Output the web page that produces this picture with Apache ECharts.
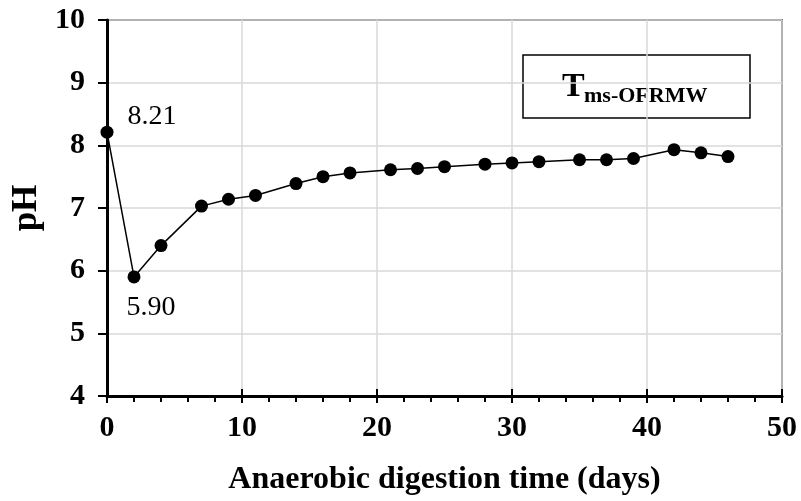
<!DOCTYPE html>
<html>
<head>
<meta charset="utf-8">
<script src="https://cdn.jsdelivr.net/npm/echarts@6/dist/echarts.min.js"></script>
<style>
  html, body { margin: 0; padding: 0; background: #fff; }
  #main { width: 801px; height: 501px; }
</style>
</head>
<body>
<div id="main"></div>
<script type="text/javascript">
    // data
    var days = [0, 2, 4, 7, 9, 11, 14, 16, 18, 21, 23, 25, 28, 30, 32, 35, 37, 39, 42, 44, 46];
    var ph = [8.21, 5.90, 6.40, 7.03, 7.14, 7.20, 7.39, 7.50, 7.56, 7.61, 7.63, 7.66, 7.70, 7.72, 7.74, 7.77, 7.77, 7.79, 7.93, 7.88, 7.82];
    var labelledIdx = [0, 1];
    var labelOffsets = [[45, -16], [17, 31]];

    var font = 'Liberation Serif, Times New Roman, serif';

    var points = days.map(function (d, i) {
        var item = { value: [d, ph[i]] };
        var k = labelledIdx.indexOf(i);
        if (k >= 0) {
            item.label = {
                show: true,
                position: 'inside',
                offset: labelOffsets[k],
                formatter: function (p) { return p.value[1].toFixed(2); },
                color: '#000',
                fontFamily: font,
                fontSize: 28
            };
        }
        return item;
    });

    var myChart = echarts.init(document.getElementById('main'));
    var option = {
        animation: false,
        grid: {
            left: 107, right: 19, top: 20, bottom: 105,
            show: true, borderColor: '#000', borderWidth: 1.5
        },
        xAxis: [{
            type: 'value', min: 0, max: 50, interval: 10,
            name: 'Anaerobic digestion time (days)',
            nameLocation: 'middle', nameGap: 68,
            nameTextStyle: { fontFamily: font, fontWeight: 'bold', fontSize: 32, color: '#000' },
            axisLine: { show: true, lineStyle: { color: '#000', width: 3 } },
            axisTick: { show: true, length: 7, lineStyle: { color: '#000', width: 2 } },
            minorTick: { show: true, splitNumber: 5, length: 6, lineStyle: { color: '#000', width: 2 } },
            axisLabel: { margin: 17, fontFamily: font, fontWeight: 'bold', fontSize: 30, color: '#000' },
            splitLine: { show: true, lineStyle: { color: '#d9d9d9', width: 1.5 } }
        }, {
            type: 'value', min: 0, max: 50, interval: 10, position: 'bottom',
            axisLine: { show: false },
            axisTick: { show: true, inside: true, length: 7, lineStyle: { color: '#000', width: 2 } },
            axisLabel: { show: false },
            splitLine: { show: false }
        }],
        yAxis: {
            type: 'value', min: 4, max: 10, interval: 1,
            name: 'pH',
            nameLocation: 'middle', nameGap: 62,
            nameTextStyle: { fontFamily: font, fontWeight: 'bold', fontSize: 35, color: '#000' },
            axisLine: { show: true, lineStyle: { color: '#000', width: 3 } },
            axisTick: { show: true, length: 9, lineStyle: { color: '#000', width: 2 } },
            axisLabel: { margin: 22, fontFamily: font, fontWeight: 'bold', fontSize: 30, color: '#000' },
            splitLine: { show: true, lineStyle: { color: '#d9d9d9', width: 1.5 } }
        },
        series: [{
            type: 'line',
            data: points,
            symbol: 'circle',
            symbolSize: 13,
            itemStyle: { color: '#000' },
            lineStyle: { color: '#000', width: 1.5 }
        }],
        graphic: [{
            type: 'rect',
            shape: { x: 523, y: 55, width: 227, height: 63 },
            style: { fill: '#fff', stroke: '#000', lineWidth: 1.5 }
        }, {
            type: 'text',
            style: { x: 562, y: 104, text: 'T', fontFamily: font, fontWeight: 'bold', fontSize: 34, fill: '#000', verticalAlign: 'bottom' }
        }, {
            type: 'text',
            style: { x: 584, y: 107, text: 'ms-OFRMW', fontFamily: font, fontWeight: 'bold', fontSize: 22, fill: '#000', verticalAlign: 'bottom' }
        }]
    };
    myChart.setOption(option);
</script>
</body>
</html>
